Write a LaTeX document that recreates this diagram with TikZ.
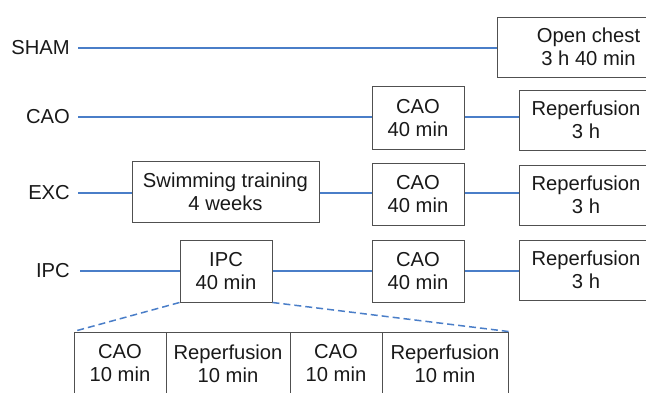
\documentclass[tikz,border=0pt]{standalone}
\usepackage{fontspec}
\setmainfont{Liberation Sans}
\definecolor{lineblue}{RGB}{74,126,200}
\definecolor{boxgray}{RGB}{80,80,80}
\definecolor{txt}{RGB}{25,25,25}
\begin{document}
\begin{tikzpicture}[x=1pt,y=-1pt,
  every node/.style={font=\fontsize{20.2}{23}\selectfont, text=txt},
  box/.style={draw=boxgray,line width=1pt,align=center,inner sep=0pt},
  lbl/.style={anchor=east,inner sep=0pt},
  conn/.style={draw=lineblue,line width=1.5pt},
  dashconn/.style={conn,dash pattern=on 7pt off 4pt}]
\useasboundingbox (0,0) rectangle (646,392);
\clip (0,0) rectangle (646,392);
% labels
\node[lbl] (sham) at (70,48) {SHAM};
\node[lbl] (cao) at (70,117) {CAO};
\node[lbl] (exc) at (70,193) {EXC};
\node[lbl] (ipcl) at (70,271) {IPC};
% SHAM row
\node[box,minimum width=183pt,minimum height=60pt] (open) at (588.5,47) {Open chest\\3 h 40 min};
% CAO row
\node[box,minimum width=92pt,minimum height=63pt] (cao1) at (418,118) {CAO\\40 min};
\node[box,minimum width=134pt,minimum height=60pt] (rep1) at (586,120) {Reperfusion\\3 h};
% EXC row
\node[box,minimum width=187pt,minimum height=61pt] (swim) at (225.5,192) {Swimming training\\4 weeks};
\node[box,minimum width=92pt,minimum height=62pt] (cao2) at (418,194) {CAO\\40 min};
\node[box,minimum width=134pt,minimum height=60pt] (rep2) at (586,195) {Reperfusion\\3 h};
% IPC row
\node[box,minimum width=92pt,minimum height=62pt] (ipc) at (226,271) {IPC\\40 min};
\node[box,minimum width=92pt,minimum height=62pt] (cao3) at (418,271.5) {CAO\\40 min};
\node[box,minimum width=134pt,minimum height=60pt] (rep3) at (586,270) {Reperfusion\\3 h};
% bottom boxes
\node[box,minimum width=92pt,minimum height=63pt] (b1) at (120,363.5) {CAO\\10 min};
\node[box,minimum width=124pt,minimum height=63pt] (b2) at (228,363.5) {Reperfusion\\10 min};
\node[box,minimum width=92pt,minimum height=63pt] (b3) at (336,363.5) {CAO\\10 min};
\node[box,minimum width=126pt,minimum height=63pt] (b4) at (445,363.5) {Reperfusion\\10 min};
% connectors
\draw[conn] ([xshift=8pt]sham.east) -- (open.west |- sham.east);
\draw[conn] ([xshift=8pt]cao.east) -- (cao1.west |- cao.east);
\draw[conn] (cao1.east |- cao.east) -- (rep1.west |- cao.east);
\draw[conn] ([xshift=8pt]exc.east) -- (swim.west |- exc.east);
\draw[conn] (swim.east |- exc.east) -- (cao2.west |- exc.east);
\draw[conn] (cao2.east |- exc.east) -- (rep2.west |- exc.east);
\draw[conn] ([xshift=10pt]ipcl.east) -- (ipc.west |- ipcl.east);
\draw[conn] (ipc.east |- ipcl.east) -- (cao3.west |- ipcl.east);
\draw[conn] (cao3.east |- ipcl.east) -- (rep3.west |- ipcl.east);
\draw[dashconn] (ipc.south west) -- (b1.north west);
\draw[dashconn] (ipc.south east) -- (b4.north east);
\end{tikzpicture}
\end{document}
